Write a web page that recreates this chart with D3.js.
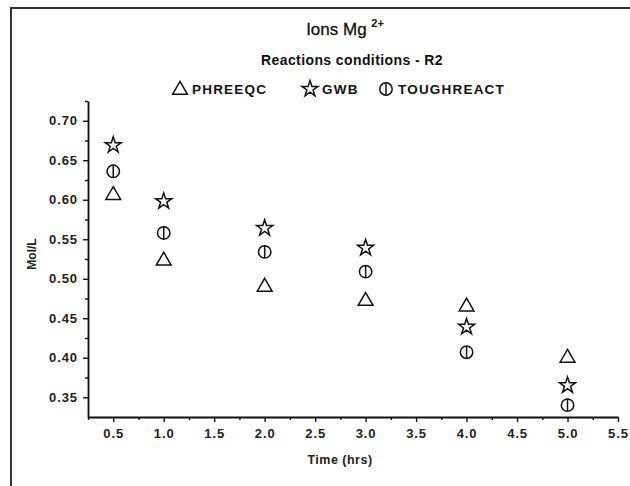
<!DOCTYPE html>
<html>
<head>
<meta charset="utf-8">
<script src="https://cdn.jsdelivr.net/npm/d3@7"></script>
<style>
  html, body { margin: 0; padding: 0; background: #fff; }
  svg { display: block; font-family: "Liberation Sans", Arial, sans-serif; }
</style>
</head>
<body>
<svg id="chart" width="630" height="486"></svg>
<script>
// Sampling times (hrs)
const times = [0.5, 1.0, 2.0, 3.0, 4.0, 5.0];
// Mg2+ concentration (mol/L) from each code
const phreeqc    = [0.607, 0.524, 0.491, 0.473, 0.466, 0.401];
const gwb        = [0.669, 0.598, 0.564, 0.539, 0.439, 0.365];
const toughreact = [0.636, 0.558, 0.534, 0.509, 0.407, 0.340];
const seriesNames = ["PHREEQC", "GWB", "TOUGHREACT"];
// Axis ticks
const xTicks = [0.5, 1.0, 1.5, 2.0, 2.5, 3.0, 3.5, 4.0, 4.5, 5.0, 5.5];
const xMinor = [0.25, 0.75, 1.25, 1.75, 2.25, 2.75, 3.25, 3.75, 4.25, 4.75, 5.25];
const yTicks = [0.35, 0.40, 0.45, 0.50, 0.55, 0.60, 0.65, 0.70];
const yMinor = [0.375, 0.425, 0.475, 0.525, 0.575, 0.625, 0.675, 0.725];

const svg = d3.select("#chart");

// outer frame
svg.append("rect")
  .attr("x", 11).attr("y", 8).attr("width", 640).attr("height", 500)
  .attr("fill", "none").attr("stroke", "#333").attr("stroke-width", 2);

const x = d3.scaleLinear().domain([0.25, 5.5]).range([88, 618]);
const y = d3.scaleLinear().domain([0.325, 0.725]).range([417, 101]);

const fmt2 = d3.format(".2f"), fmt1 = d3.format(".1f");

// x axis
const gx = svg.append("g").attr("transform", "translate(0,417)");
gx.call(d3.axisBottom(x).tickValues(xTicks).tickFormat(fmt1).tickSize(5).tickSizeOuter(0));
gx.append("g").call(d3.axisBottom(x).tickValues(xMinor).tickFormat("").tickSize(3).tickSizeOuter(0))
  .select(".domain").remove();
// y axis
const gy = svg.append("g").attr("transform", "translate(88,0)");
gy.call(d3.axisLeft(y).tickValues(yTicks).tickFormat(fmt2).tickSize(5).tickSizeOuter(0));
gy.append("g").call(d3.axisLeft(y).tickValues(yMinor).tickFormat("").tickSize(3).tickSizeOuter(0))
  .select(".domain").remove();

svg.selectAll(".domain").attr("stroke", "#111").attr("stroke-width", 1.8);
svg.selectAll(".tick line").attr("stroke", "#111").attr("stroke-width", 1.4);
gx.selectAll(".tick text").attr("font-size", 13).attr("font-weight", "bold").attr("fill", "#222")
  .attr("dy", "1.0em").attr("letter-spacing", 0.9);
gy.selectAll(".tick text").attr("font-size", 13).attr("font-weight", "bold").attr("fill", "#222")
  .attr("x", -10).attr("letter-spacing", 0.9);

// axis titles
svg.append("text").attr("x", 340).attr("y", 464).attr("text-anchor", "middle")
  .attr("font-size", 12.5).attr("font-weight", "bold").attr("fill", "#222").attr("letter-spacing", 0.5)
  .text("Time (hrs)");
svg.append("text").attr("transform", "translate(36,254) rotate(-90)").attr("text-anchor", "middle")
  .attr("font-size", 12).attr("font-weight", "bold").attr("fill", "#222")
  .text("Mol/L");

// titles
const t1 = svg.append("text").attr("x", 345).attr("y", 35).attr("text-anchor", "middle")
  .attr("font-size", 17).attr("fill", "#111").attr("stroke", "#111").attr("stroke-width", 0.3);
t1.append("tspan").text("Ions Mg ");
t1.append("tspan").attr("font-size", 11).attr("font-weight", "bold").attr("stroke-width", 0)
  .attr("dy", -8).text("2+");
svg.append("text").attr("x", 352).attr("y", 65).attr("text-anchor", "middle")
  .attr("font-size", 14).attr("font-weight", "bold").attr("fill", "#111").attr("letter-spacing", 0.4)
  .text("Reactions conditions - R2");

// marker shapes
function drawMarker(g, kind) {
  if (kind === 0) {
    g.append("path").attr("d", d3.symbol(d3.symbolTriangle, 95)())
      .attr("transform", "translate(0,1)");
  } else if (kind === 1) {
    g.append("path").attr("d", d3.symbol(d3.symbolStar, 80)());
  } else {
    g.append("circle").attr("r", 6.2);
    g.append("line").attr("x1", 0).attr("x2", 0).attr("y1", -6.2).attr("y2", 6.2);
  }
  g.selectAll("path,circle,line").attr("fill", "none").attr("stroke", "#111").attr("stroke-width", 1.5);
}

// legend
const legendX = [180, 310, 386];
seriesNames.forEach((name, i) => {
  const g = svg.append("g").attr("transform", `translate(${legendX[i]},89)`);
  drawMarker(g, i);
  svg.append("text").attr("x", legendX[i] + 12).attr("y", 94)
    .attr("font-size", 13.5).attr("font-weight", "bold").attr("fill", "#111").attr("letter-spacing", 1.2)
    .text(name);
});

// data points
const allSeries = [phreeqc, gwb, toughreact];
allSeries.forEach((vals, i) => {
  svg.append("g").selectAll("g")
    .data(times.map((t, j) => ({t, v: vals[j]})))
    .join("g")
    .attr("transform", d => `translate(${x(d.t)},${y(d.v)})`)
    .each(function() { drawMarker(d3.select(this), i); });
});
</script>
</body>
</html>
